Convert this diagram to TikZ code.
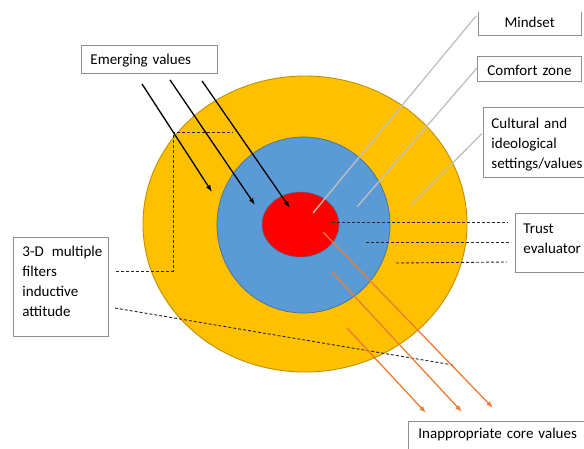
\documentclass[tikz,border=0pt]{standalone}
\usepackage{fontspec}
\setmainfont{Carlito}
\usetikzlibrary{shapes.geometric,arrows.meta,calc}
\definecolor{ygold}{HTML}{FFC000}
\definecolor{ygoldline}{HTML}{BF9000}
\definecolor{mblue}{HTML}{5B9BD5}
\definecolor{mblueline}{HTML}{41719C}
\definecolor{cred}{HTML}{FF0000}
\definecolor{boxline}{HTML}{8F8F8F}
\definecolor{leadgray}{HTML}{BFBFBF}
\definecolor{arrorange}{HTML}{ED7D31}
\begin{document}
\begin{tikzpicture}[x=1pt,y=-1pt,
  txt/.style={font=\fontsize{15}{20}\selectfont, text=black},
  labelbox/.style={txt, draw=boxline, fill=white, line width=0.9pt, anchor=north west, align=left, text height=14pt},
  ring/.style={ellipse, inner sep=0pt},
  leader/.style={draw=leadgray, line width=1.3pt},
  dashlead/.style={draw=black!85, line width=0.9pt, dash pattern=on 3pt off 2pt},
  inarrow/.style={draw=black, line width=1.3pt, -{Latex[length=7pt,width=5pt]}},
  outarrow/.style={draw=arrorange, line width=1.3pt, -{Latex[length=7pt,width=5pt]}},
]
\useasboundingbox (0,0) rectangle (584,448);
\clip (0,0) rectangle (584,448);

% rings
\node[ring, fill=ygold, draw=ygoldline, line width=0.9pt, minimum width=324pt, minimum height=296pt] (outer) at (305,224) {};
\node[ring, fill=mblue, draw=mblueline, line width=0.7pt, minimum width=173pt, minimum height=176pt] (mid) at (303.5,225) {};
\node[ring, fill=cred, draw=mblueline, line width=0.5pt, minimum width=77pt, minimum height=65pt] (core) at (300.5,224.5) {};

% boxes
\node[labelbox, inner xsep=9pt, inner ysep=5pt, text width=118pt, text depth=4pt] (ev) at (81,45) {Emerging values};
\node[txt, anchor=north west, inner xsep=0pt, inner ysep=1pt, text width=103pt, align=center, text height=14pt, text depth=7pt] (mind) at (478,12) {Mindset};
\draw[draw=boxline, line width=0.9pt] (mind.north west) -- (mind.south west) -- (mind.south east) -- (mind.north east);
\node[labelbox, inner xsep=0pt, inner ysep=5pt, text width=104pt, align=center, text depth=1pt] (comf) at (477,56) {Comfort zone};
\node[labelbox, inner xsep=8pt, inner ysep=7pt, text width=101pt, text depth=42pt] (cult) at (483,107) {Cultural and\\ideological\\settings/values};
\node[labelbox, inner xsep=8pt, inner ysep=6pt, text width=69pt, text depth=33pt] (trust) at (515,213) {Trust\\evaluator};
\node[labelbox, inner xsep=9pt, inner ysep=5pt, text width=77pt, text depth=75pt] (filt) at (13,237) {\mbox{3-D\hspace{3pt} multiple}\\filters\\inductive\\attitude};
\node[labelbox, inner xsep=10pt, inner ysep=3pt, text width=172pt, text depth=19pt] (inap) at (408,421) {Inappropriate core values};

% free ends
\coordinate (mindP) at (313,213);
\coordinate (comfP) at (357,207);
\coordinate (cultP) at (411,205);
\coordinate (tr1) at (332,222);
\coordinate (tr2) at (366,242);
\coordinate (tr3) at (396,263);
\coordinate (fcorner) at (173,132);
\coordinate (f1) at (233,132);
\coordinate (f2) at (453,365);
\coordinate (e1) at (212,192);
\coordinate (e2) at (255,205);
\coordinate (e3) at (290,208);
\coordinate (o1) at (323,232);
\coordinate (o2) at (332,272);
\coordinate (o3) at (347,328);

% grey leaders
\draw[leader] (mindP) -- ($(mind.north west)+(-2,4)$);
\draw[leader] (comfP) -- ($(comf.west)+(0,-1)$);
\draw[leader] (cultP) -- ($(cult.west)+(-1,-9)$);

% dashed leaders
\draw[dashlead] (tr1) -- ($(trust.north west)+(-7,9)$);
\draw[dashlead] (tr2) -- ($(trust.north west)+(-4,29)$);
\draw[dashlead] (tr3) -- ($(trust.north west)+(-8,49)$);
\draw[dashlead] ($(filt.north east)+(7,34)$) -| (fcorner) -- (f1);
\draw[dashlead] ($(filt.north east)+(6,71)$) -- (f2);

% emerging values arrows
\draw[inarrow] ($(ev.south west)+(61,10)$) -- (e1);
\draw[inarrow] ($(ev.south west)+(89,6)$) -- (e2);
\draw[inarrow] ($(ev.south west)+(121,7)$) -- (e3);

% inappropriate core values arrows
\draw[outarrow] (o1) -- ($(inap.north west)+(85,-13)$);
\draw[outarrow] (o2) -- ($(inap.north west)+(54,-9)$);
\draw[outarrow] (o3) -- ($(inap.north west)+(18,-8)$);
\end{tikzpicture}
\end{document}
